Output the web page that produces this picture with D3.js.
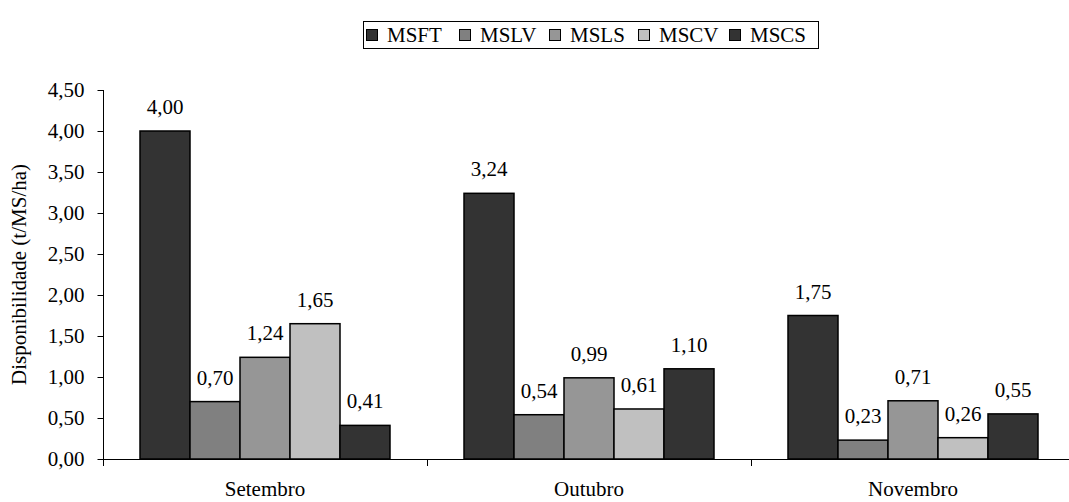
<!DOCTYPE html>
<html><head><meta charset="utf-8">
<script src="https://cdn.jsdelivr.net/npm/d3@7"></script>
<style>
body{margin:0;background:#fff;}
</style></head>
<body><svg id="c" width="1069" height="502"></svg>
<script>
const categories = ["Setembro","Outubro","Novembro"];
const seriesNames = ["MSFT","MSLV","MSLS","MSCV","MSCS"];
const MSFT = [4.00, 3.24, 1.75];
const MSLV = [0.70, 0.54, 0.23];
const MSLS = [1.24, 0.99, 0.71];
const MSCV = [1.65, 0.61, 0.26];
const MSCS = [0.41, 1.10, 0.55];
const yTicks = [0,0.5,1,1.5,2,2.5,3,3.5,4,4.5];
const colors = ["#333333","#808080","#969696","#c0c0c0","#333333"];

const seriesVals = [MSFT, MSLV, MSLS, MSCV, MSCS];
const data = categories.map((c,i)=>({cat:c, vals:seriesNames.map((s,j)=>({s, j, v:seriesVals[j][i]}))}));

const svg = d3.select("#c");
const pL=103, pR=1075, pT=90, pB=459;
const x = d3.scaleBand().domain(categories).range([pL,pR]).padding(0);
const x1 = d3.scaleBand().domain(seriesNames).range([0,x.bandwidth()]).paddingInner(0).paddingOuter(0.74);
const y = d3.scaleLinear().domain([0,4.5]).range([pB,pT]);
const fmt = v => d3.format(".2f")(v).replace(".",",");
function txt(sel){ sel.attr("font-family","Liberation Serif").attr("font-size","21px").attr("fill","#000"); }

// y axis
const ya = svg.append("g").attr("transform",`translate(${pL+0.5},0)`);
ya.append("line").attr("y1",pT).attr("y2",pB+7).attr("stroke","#000");
ya.selectAll("line.t").data(yTicks).join("line").attr("class","t")
  .attr("x1",-6).attr("x2",0).attr("y1",d=>Math.round(y(d))+0.5).attr("y2",d=>Math.round(y(d))+0.5).attr("stroke","#000");
ya.selectAll("text").data(yTicks).join("text")
  .attr("x",-19).attr("y",d=>y(d)).attr("dy","0.35em").attr("text-anchor","end")
  .call(txt).text(fmt);

// bars
const g = svg.append("g");
const grp = g.selectAll("g").data(data).join("g").attr("transform",d=>`translate(${x(d.cat)},0)`);
grp.selectAll("rect").data(d=>d.vals).join("rect")
  .attr("x",d=>x1(d.s)).attr("width",x1.bandwidth())
  .attr("y",d=>y(d.v)).attr("height",d=>y(0)-y(d.v))
  .attr("fill",d=>colors[d.j]).attr("stroke","#000").attr("stroke-width",1.5);
grp.selectAll("text").data(d=>d.vals).join("text")
  .attr("x",d=>x1(d.s)+x1.bandwidth()/2).attr("y",d=>y(d.v)-17)
  .attr("text-anchor","middle").call(txt).text(d=>fmt(d.v));

// x axis
const xa = svg.append("g");
xa.append("line").attr("x1",pL).attr("x2",pR).attr("y1",pB+0.5).attr("y2",pB+0.5).attr("stroke","#000");
xa.selectAll("line.t").data(categories.slice(1)).join("line").attr("class","t")
  .attr("x1",d=>Math.round(x(d))+0.5).attr("x2",d=>Math.round(x(d))+0.5).attr("y1",pB).attr("y2",pB+7).attr("stroke","#000");
xa.selectAll("text").data(categories).join("text")
  .attr("x",d=>x(d)+x.bandwidth()/2).attr("y",496).attr("text-anchor","middle")
  .call(txt).text(d=>d);

// y title
svg.append("text").attr("transform",`translate(26,${(pT+pB)/2}) rotate(-90)`)
  .attr("text-anchor","middle").call(txt).text("Disponibilidade (t/MS/ha)");

// legend
const lg = svg.append("g");
lg.append("rect").attr("x",363.5).attr("y",21.5).attr("width",455).attr("height",27).attr("fill","#fff").attr("stroke","#000");
const swX = [366,459,549,638,729];
const items = lg.selectAll("g").data(seriesNames).join("g").attr("transform",(d,i)=>`translate(${swX[i]},0)`);
items.append("rect").attr("x",0.5).attr("y",29.5).attr("width",11).attr("height",11)
  .attr("fill",(d,i)=>colors[i]).attr("stroke","#000");
items.append("text").attr("x",21).attr("y",42).call(txt).text(d=>d);
</script></body></html>
